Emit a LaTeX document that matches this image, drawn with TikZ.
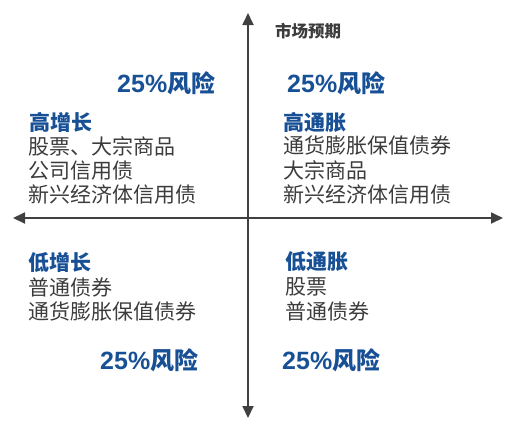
\documentclass[tikz,border=0pt]{standalone}
\usepackage{fontspec}
\newfontfamily\cjk{Noto Sans CJK SC}
\newfontfamily\lat{Liberation Sans}
\usetikzlibrary{arrows.meta}
\definecolor{hblue}{RGB}{24,80,150}
\definecolor{tgray}{RGB}{60,60,60}
\definecolor{agray}{RGB}{64,64,64}
\tikzset{
  axis/.style={draw=agray, line width=1.8pt, {Triangle[length=12pt,width=11pt]}-{Triangle[length=12pt,width=11pt]}},
  itemtxt/.style={anchor=west, inner sep=0pt, text=tgray, font=\cjk\fontsize{21}{24}\selectfont},
  headtxt/.style={anchor=west, inner sep=0pt, text=hblue, font=\cjk\bfseries\fontsize{21}{24}\selectfont},
  risktxt/.style={anchor=west, inner sep=0pt, text=hblue, font=\cjk\bfseries\fontsize{24}{26}\selectfont},
  titletxt/.style={anchor=west, inner sep=0pt, text=tgray, font=\cjk\bfseries\fontsize{16.5}{18}\selectfont},
}
\newcommand{\riskstr}{{\lat\bfseries\fontsize{25}{26}\selectfont 25\%}风险}
\begin{document}
\begin{tikzpicture}[x=1pt,y=-1pt]
\useasboundingbox (0,0) rectangle (518,432);
\coordinate (L) at (13,218);
\coordinate (R) at (503,218);
\coordinate (T) at (248,13);
\coordinate (B) at (248,418);
\draw[axis] (L) -- (R);
\draw[axis] (T) -- (B);
\node[titletxt] (title) at (275,31) {市场预期};
% top-left
\node[risktxt] (r1) at (117,83) {\riskstr};
\node[headtxt] (h1) at (29,122) {高增长};
\node[itemtxt] (a1) at (28,146) {股票、大宗商品};
\node[itemtxt] (a2) at (28,170.5) {公司信用债};
\node[itemtxt] (a3) at (28,195) {新兴经济体信用债};
% top-right
\node[risktxt] (r2) at (287,83) {\riskstr};
\node[headtxt] (h2) at (283,122) {高通胀};
\node[itemtxt] (b1) at (283,146) {通货膨胀保值债券};
\node[itemtxt] (b2) at (283,170.5) {大宗商品};
\node[itemtxt] (b3) at (283,195) {新兴经济体信用债};
% bottom-left
\node[headtxt] (h3) at (28,263) {低增长};
\node[itemtxt] (c1) at (28,287.5) {普通债券};
\node[itemtxt] (c2) at (28,312) {通货膨胀保值债券};
\node[risktxt] (r3) at (100,360) {\riskstr};
% bottom-right
\node[headtxt] (h4) at (285,262) {低通胀};
\node[itemtxt] (d1) at (285,286.5) {股票};
\node[itemtxt] (d2) at (285,311) {普通债券};
\node[risktxt] (r4) at (282,360) {\riskstr};
\end{tikzpicture}
\end{document}
